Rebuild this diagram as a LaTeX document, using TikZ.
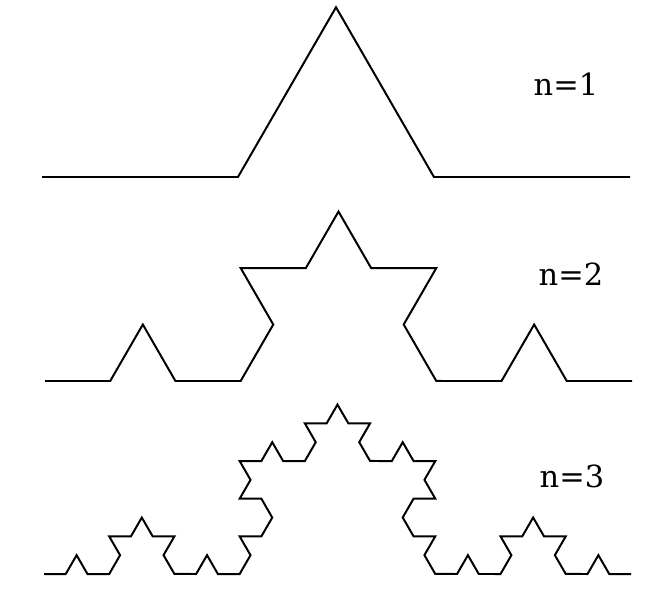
\documentclass[tikz,border=0pt]{standalone}
\usepackage{fontspec}
\setmainfont{DejaVu Serif}
\usepackage{tikz}
\usetikzlibrary{positioning,decorations.fractals}

\begin{document}
\begin{tikzpicture}[
    x=0.03cm, y=-0.03cm,
    koch/.style={line width=1.7pt, line join=miter, decoration=Koch snowflake},
    every node/.style={font=\fontsize{26}{28}\selectfont}
]
\useasboundingbox (0,0) rectangle (651,598);

% end points of the three curves
\coordinate (A1) at (42,177);
\coordinate (B1) at (630,177);
\coordinate (A2) at (45,381);
\coordinate (B2) at (632,381);
\coordinate (A3) at (44,574);
\coordinate (B3) at (631,574);

\draw[koch] decorate{ (A1) -- (B1) };
\draw[koch] decorate{ decorate{ (A2) -- (B2) } };
\draw[koch] decorate{ decorate{ decorate{ (A3) -- (B3) } } };

\node (n1) at (566,84) {n=1};
\node (n2) at (571,274) {n=2};
\node (n3) at (572,476) {n=3};

\end{tikzpicture}
\end{document}
